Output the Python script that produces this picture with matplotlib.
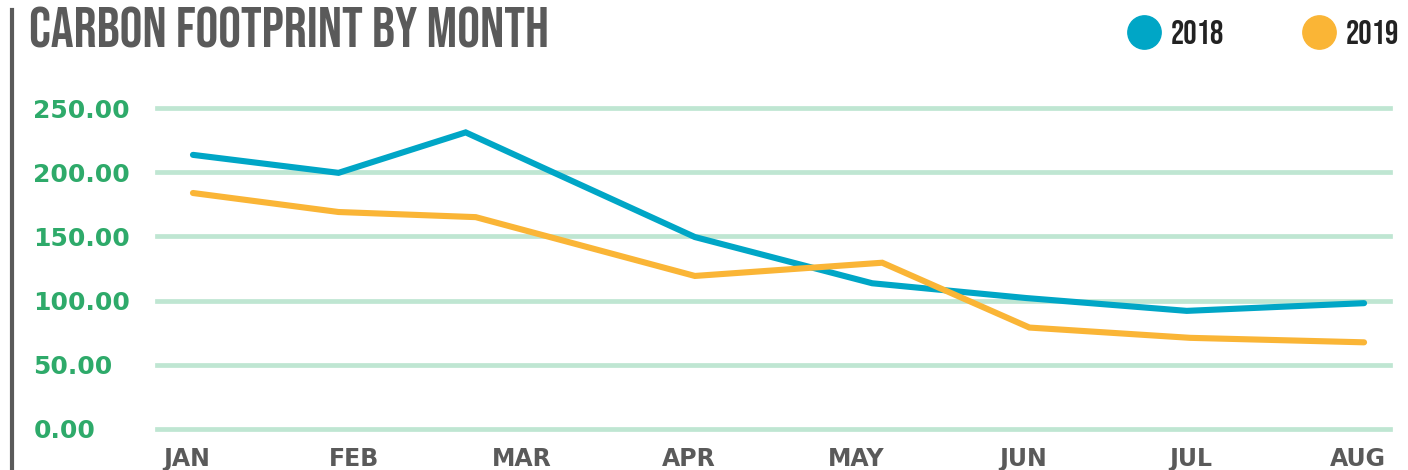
import matplotlib
matplotlib.use('Agg')
import matplotlib.pyplot as plt
from matplotlib.lines import Line2D
from matplotlib import font_manager as fm

# data
months = ['JAN', 'FEB', 'MAR', 'APR', 'MAY', 'JUN', 'JUL', 'AUG']
# vertex positions along the month axis (they are not evenly spaced in the original)
x_2018 = [0, 0.87, 1.63, 3.0, 4.06, 4.98, 5.94, 7.0]
y_2018 = [213.5, 199.5, 231.0, 149.5, 113.5, 102.0, 92.0, 98.0]
x_2019 = [0, 0.87, 1.69, 3.0, 4.12, 5.0, 5.96, 7.0]
y_2019 = [183.8, 169.0, 165.0, 119.2, 129.5, 79.0, 71.0, 67.5]
yticks = [0, 50, 100, 150, 200, 250]

c18 = '#00a6c6'
c19 = '#fab536'
grey = '#5a5a5a'
green = '#2eaa6a'

fonts = fm.fontManager.ttflist
installed = set(f.name for f in fonts)
has_bebas = 'Bebas Neue' in installed
cond = 'Bebas Neue' if has_bebas else 'DejaVu Sans'


def bold_family(cands):
    for c in cands:
        for f in fonts:
            if f.name == c and f.weight in (700, 'bold') and f.style == 'normal':
                return c
    return 'DejaVu Sans'


franklin = bold_family(['Libre Franklin', 'Public Sans', 'Archivo', 'Franklin Gothic', 'Work Sans'])

fig = plt.figure(figsize=(14.08, 4.70), dpi=100)
ax = fig.add_axes([157/1408, 1-429/470, (1390-157)/1408, (429-108)/470])

ax.plot(x_2018, y_2018, color=c18, lw=4.4, solid_capstyle='round', solid_joinstyle='miter', zorder=3)
ax.plot(x_2019, y_2019, color=c19, lw=4.4, solid_capstyle='round', solid_joinstyle='miter', zorder=3)

ax.set_xlim(-0.215, 7.155)
ax.set_ylim(0, 250)
ax.set_yticks(yticks)
ax.set_yticklabels(['%.2f' % v for v in yticks])
ax.set_xticks([i - 0.035 for i in range(len(months))])
ax.set_xticklabels(months)
ax.grid(axis='y', color='#bfe6d2', lw=3.4)
for gl in ax.get_ygridlines():
    gl.set_clip_on(False)
ax.set_axisbelow(True)
for s in ax.spines.values():
    s.set_visible(False)
ax.tick_params(axis='both', length=0)
ysize = 18 if franklin == 'DejaVu Sans' else 20
ax.tick_params(axis='y', pad=89, labelsize=ysize, labelcolor=green)
ax.tick_params(axis='x', pad=13, labelsize=17, labelcolor=grey)
for lab in ax.get_yticklabels():
    lab.set_horizontalalignment('left')
    lab.set_fontweight('bold')
    lab.set_family(franklin)
for lab in ax.get_xticklabels():
    lab.set_fontweight('bold')
    lab.set_family(franklin)

# title and the grey bar on the left
tsize = 41 if has_bebas else 21
fig.text(29/1408, 1-48/470, 'CARBON FOOTPRINT BY MONTH', family=cond, fontweight='bold',
         fontsize=tsize, color=grey, ha='left', va='baseline')
fig.add_artist(Line2D([11.5/1408, 11.5/1408], [1-10/470, 0], color=grey, lw=3))

# legend
lsize = 24 if has_bebas else 15
handles = [Line2D([], [], ls='none', marker='o', ms=24, color=c18, label='2018'),
           Line2D([], [], ls='none', marker='o', ms=24, color=c19, label='2019')]
leg = fig.legend(handles=handles, loc='center right', bbox_to_anchor=(1412/1408, 1-32/470),
                 ncol=2, frameon=False, handletextpad=0.2, columnspacing=2.25,
                 handlelength=1.2, borderaxespad=0, prop={'family': cond, 'weight': 'bold', 'size': lsize})
for t in leg.get_texts():
    t.set_color('#222222')

fig.savefig('out.png', dpi=100)
